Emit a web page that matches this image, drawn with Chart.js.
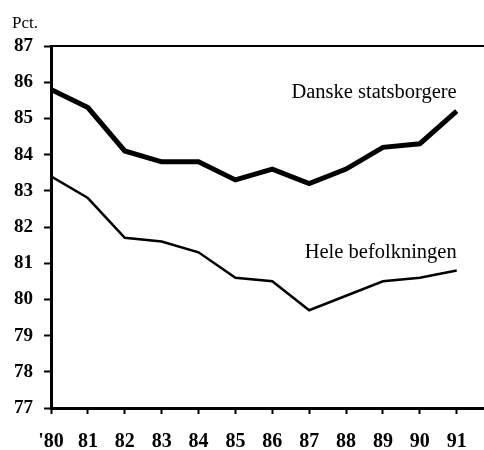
<!DOCTYPE html>
<html>
<head>
<meta charset="utf-8">
<script src="https://cdn.jsdelivr.net/npm/chart.js@4"></script>
<style>
  html, body { margin: 0; padding: 0; background: #fff; }
  #wrap { width: 484px; height: 450px; position: relative; }
</style>
</head>
<body>
<div id="wrap"><canvas id="c"></canvas></div>
<script>
const years = ["'80", "81", "82", "83", "84", "85", "86", "87", "88", "89", "90", "91"];
const danske = [85.8, 85.3, 84.1, 83.8, 83.8, 83.3, 83.6, 83.2, 83.6, 84.2, 84.3, 85.2];
const hele = [83.4, 82.8, 81.7, 81.6, 81.3, 80.6, 80.5, 79.7, 80.1, 80.5, 80.6, 80.8];
const yTicks = [77, 78, 79, 80, 81, 82, 83, 84, 85, 86, 87];

const serif = "'Liberation Serif', 'Times New Roman', serif";

// extra text: unit label, top border, series names
const annotations = {
  id: "annotations",
  afterDraw(c) {
    const ctx = c.ctx, a = c.chartArea;
    const x = c.scales.x, y = c.scales.y;
    ctx.save();
    ctx.strokeStyle = "#000";
    ctx.lineWidth = 2;
    ctx.beginPath();
    ctx.moveTo(a.left, a.top);
    ctx.lineTo(a.right, a.top);
    ctx.stroke();

    ctx.fillStyle = "#000";
    ctx.font = "17px " + serif;
    ctx.textAlign = "left";
    ctx.textBaseline = "alphabetic";
    ctx.fillText("Pct.", 12, 28);

    ctx.font = "20.5px " + serif;
    ctx.textAlign = "right";
    ctx.fillText("Danske statsborgere", x.getPixelForValue(11), y.getPixelForValue(85.56));
    ctx.fillText("Hele befolkningen", x.getPixelForValue(11), y.getPixelForValue(81.14));
    ctx.restore();
  }
};

new Chart(document.getElementById("c"), {
  type: "line",
  data: {
    datasets: [
      { label: "Danske statsborgere", data: danske.map((v, i) => ({ x: i, y: v })),
        borderColor: "#000", borderWidth: 5, pointRadius: 0, tension: 0 },
      { label: "Hele befolkningen", data: hele.map((v, i) => ({ x: i, y: v })),
        borderColor: "#000", borderWidth: 2.5, pointRadius: 0, tension: 0 }
    ]
  },
  options: {
    responsive: true,
    maintainAspectRatio: false,
    animation: false,
    layout: { padding: { top: 46, right: 0, left: 0, bottom: 0 } },
    plugins: { legend: { display: false }, tooltip: { enabled: false } },
    scales: {
      x: {
        type: "linear",
        min: 0,
        max: 11.74,
        afterFit(s) { s.height = 42; },
        afterBuildTicks(s) { s.ticks = years.map((_, i) => ({ value: i })); },
        ticks: {
          color: "#000",
          font: { family: serif, size: 20, weight: "bold" },
          padding: 16,
          maxRotation: 0,
          autoSkip: false,
          callback: v => years[v]
        },
        grid: { display: true, drawOnChartArea: false, drawTicks: true, tickLength: 6, tickColor: "#000", tickWidth: 2 },
        border: { display: true, color: "#000", width: 3 }
      },
      y: {
        min: 77,
        max: 87,
        afterFit(s) { s.width = 51; },
        afterBuildTicks(s) { s.ticks = yTicks.map(v => ({ value: v })); },
        ticks: {
          color: "#000",
          font: { family: serif, size: 19, weight: "bold" },
          padding: 11
        },
        grid: { display: true, drawOnChartArea: false, drawTicks: true, tickLength: 7, tickColor: "#000", tickWidth: 2 },
        border: { display: true, color: "#000", width: 3 }
      }
    }
  },
  plugins: [annotations]
});
</script>
</body>
</html>
